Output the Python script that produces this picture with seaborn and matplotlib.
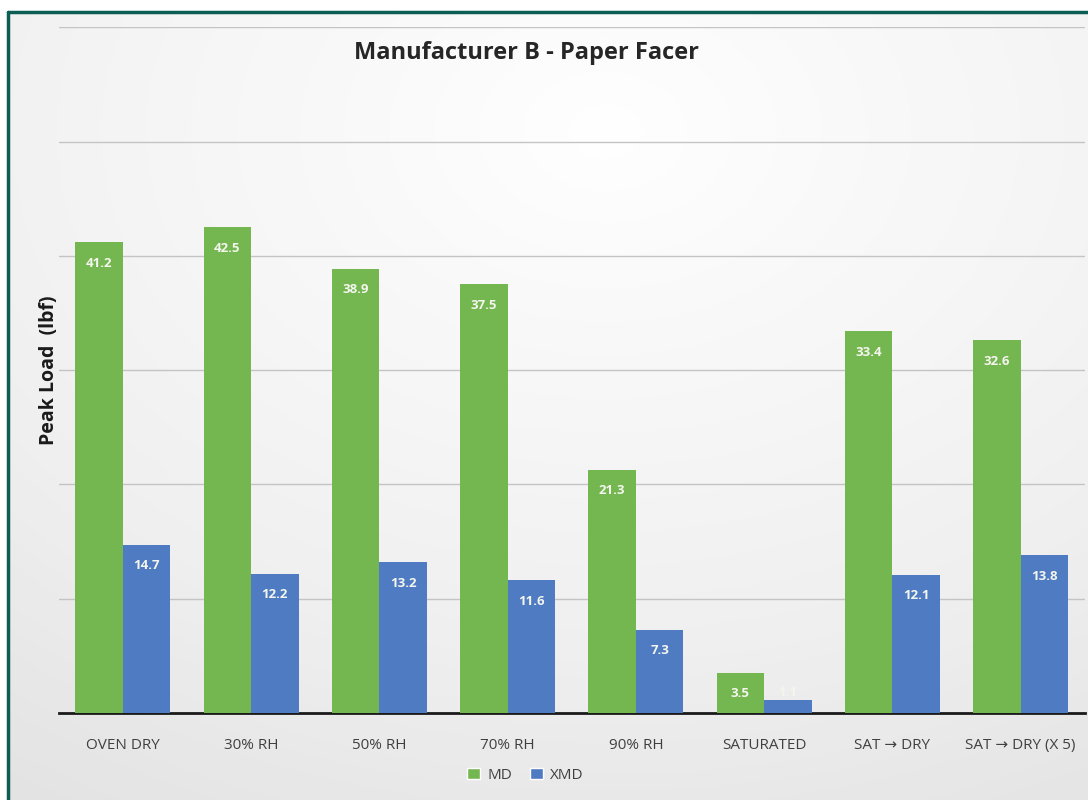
import numpy as np
import pandas as pd
import matplotlib
matplotlib.use("Agg")
import matplotlib.pyplot as plt
import seaborn as sns
from matplotlib.lines import Line2D
from matplotlib.patches import Patch

# data
conditions = ["OVEN DRY", "30% RH", "50% RH", "70% RH", "90% RH",
              "SATURATED", "SAT \u2192 DRY", "SAT \u2192 DRY (X 5)"]
md_load = [41.2, 42.5, 38.9, 37.5, 21.3, 3.5, 33.4, 32.6]
xmd_load = [14.7, 12.2, 13.2, 11.6, 7.3, 1.1, 12.1, 13.8]
series = ["MD", "XMD"]

green = "#74b650"
blue = "#4f7bc3"
text_col = "#404040"

df = pd.DataFrame({
    "condition": conditions * 2,
    "direction": ["MD"] * len(conditions) + ["XMD"] * len(conditions),
    "load": md_load + xmd_load,
})

sns.set_theme(style="white")
plt.rcParams["font.family"] = ["Open Sans", "DejaVu Sans"]

fig = plt.figure(figsize=(10.88, 8), dpi=100)
fig.patch.set_facecolor("white")

# soft background shading like the office chart style
bg = fig.add_axes([0.008, 0, 0.992, 0.985], zorder=0)
yy, xx = np.mgrid[0:400, 0:544]
cx, cy = 300, 60
r = np.sqrt(((xx - cx) / 544) ** 2 + ((yy - cy) / 400) ** 2)
shade = 0.995 - 0.19 * np.clip(r, 0, 1)
bg.imshow(shade, cmap="Greys_r", vmin=0, vmax=1, aspect="auto",
          extent=[0, 1, 0, 1], origin="upper", interpolation="bicubic")
bg.axis("off")

# dark green frame on top and left
fig.add_artist(Line2D([0.0075, 1.0], [0.9855, 0.9855], color="#0d5e52",
                      lw=2.5, transform=fig.transFigure, zorder=5))
fig.add_artist(Line2D([0.0075, 0.0075], [0.0, 0.9855], color="#0d5e52",
                      lw=2.5, transform=fig.transFigure, zorder=5))

ax = fig.add_axes([0.054, 0.10875, 0.943, 0.857], zorder=1)
ax.set_facecolor("none")

sns.barplot(data=df, x="condition", y="load", hue="direction",
            palette={"MD": green, "XMD": blue}, width=0.74, gap=0.0,
            edgecolor="none", linewidth=0, saturation=1,
            ax=ax, legend=False, zorder=3)

ax.set_ylim(0, 60)
ax.set_xlim(-0.5, len(conditions) - 0.5)
ax.set_yticks([10, 20, 30, 40, 50, 60])
ax.set_yticklabels([])
ax.tick_params(axis="y", length=0)
ax.tick_params(axis="x", length=0, labelsize=11, labelcolor=text_col, pad=18)
ax.grid(axis="y", color="#c4c4c4", lw=1, zorder=0)
for s in ["top", "right", "left"]:
    ax.spines[s].set_visible(False)
ax.spines["bottom"].set_color("#1a1a1a")
ax.spines["bottom"].set_linewidth(2)
ax.set_xlabel("")
ax.set_ylabel("Peak Load  (lbf)", fontsize=14, fontweight="bold", color="#1a1a1a")
ax.yaxis.set_label_coords(0.0, 0.5)

for cont in ax.containers:
    for bar in cont:
        h = bar.get_height()
        x = bar.get_x() + bar.get_width() / 2
        offset = -15 if h > 2.5 else 6
        ax.annotate(f"{h:.1f}", (x, h), xytext=(0, offset), textcoords="offset points",
                    ha="center", va="center", fontsize=9.5, fontweight="bold",
                    color="#f4f6ee", zorder=4)

fig.text(0.484, 0.934, "Manufacturer B - Paper Facer", ha="center", va="center",
         fontsize=17, fontweight="bold", color="#262626")

handles = [Patch(facecolor=green, label=series[0]),
           Patch(facecolor=blue, label=series[1])]
fig.legend(handles=handles, loc="center", bbox_to_anchor=(0.483, 0.031), ncol=2,
           frameon=False, fontsize=11, handlelength=0.8, handleheight=0.8,
           columnspacing=1.2, handletextpad=0.5, labelcolor=text_col)

fig.savefig("out.png", dpi=100)
